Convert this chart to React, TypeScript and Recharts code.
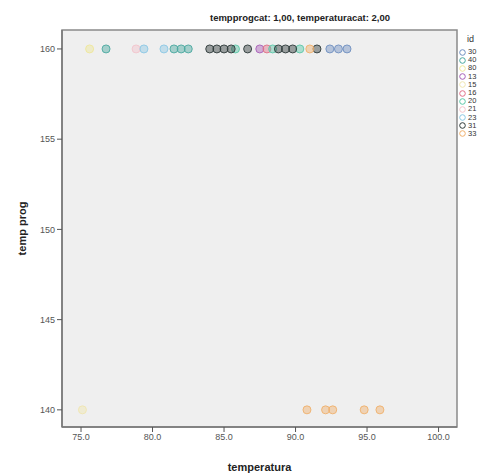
import React from 'react';
import { ScatterChart, Scatter, XAxis, YAxis, CartesianGrid, ReferenceArea, Customized } from 'recharts';

const ids = ['30', '40', '80', '13', '15', '16', '20', '21', '23', '31', '33'];
const colors = ['#6f8fc0', '#4aa8a0', '#eee79a', '#a860b8', '#efe6b0', '#e07088', '#5cc8a8', '#f2c4cc', '#8cc8e4', '#2e3a3a', '#f0b06c'];

// temperatura values per id (temp prog = 160 unless noted)
const s30 = [{ x: 92.4, y: 160 }, { x: 93.0, y: 160 }, { x: 93.6, y: 160 }];
const s40 = [{ x: 76.75, y: 160 }, { x: 81.5, y: 160 }, { x: 82.0, y: 160 }, { x: 82.5, y: 160 }];
const s80 = [{ x: 75.6, y: 160 }];
const s13 = [{ x: 87.5, y: 160 }];
const s15 = [{ x: 75.1, y: 140 }];
const s16 = [{ x: 88.0, y: 160 }];
const s20 = [{ x: 85.8, y: 160 }, { x: 90.3, y: 160 }, { x: 88.4, y: 160 }];
const s21 = [{ x: 78.85, y: 160 }];
const s23 = [{ x: 79.4, y: 160 }, { x: 80.8, y: 160 }];
const s31 = [
  { x: 84.0, y: 160 }, { x: 84.5, y: 160 }, { x: 85.0, y: 160 }, { x: 85.5, y: 160 },
  { x: 86.65, y: 160 }, { x: 88.8, y: 160 }, { x: 89.3, y: 160 }, { x: 89.8, y: 160 }, { x: 91.5, y: 160 },
];
const s33 = [
  { x: 91.0, y: 160 }, { x: 90.8, y: 140 }, { x: 92.1, y: 140 }, { x: 92.6, y: 140 },
  { x: 94.8, y: 140 }, { x: 95.9, y: 140 },
];
const seriesData = [s30, s40, s80, s13, s15, s16, s20, s21, s23, s31, s33];

const xTicks = [75, 80, 85, 90, 95, 100];
const yTicks = [140, 145, 150, 155, 160];
const xDomain = [73.67, 101.29];
const yDomain = [139.05, 161.05];

const title = 'tempprogcat: 1,00, temperaturacat: 2,00';
const FONT = 'Liberation Sans, Arial, sans-serif';

const makeDot = (color: string) => (props: any) => {
  const { cx, cy } = props;
  if (cx == null || cy == null) return <g />;
  return <circle cx={cx} cy={cy} r={4} fill={color} fillOpacity={0.45} stroke={color} strokeOpacity={0.9} strokeWidth={1} />;
};

const LegendBox = () => (
  <div style={{ position: 'absolute', left: 459, top: 34, width: 19, overflow: 'hidden', fontFamily: FONT, fontSize: 7.5, color: '#333', lineHeight: '8.2px', whiteSpace: 'nowrap' }}>
    <div style={{ marginLeft: 8, marginBottom: 4, fontSize: 9, lineHeight: '10px' }}>id</div>
    {ids.map((id, i) => (
      <div key={id} style={{ display: 'flex', alignItems: 'center', height: 8.2, overflow: 'hidden' }}>
        <svg width={7} height={7} style={{ marginRight: 2, flex: 'none' }}>
          <circle cx={3.5} cy={3.5} r={2.8} fill="none" stroke={colors[i]} strokeWidth={1} />
        </svg>
        <span>{id}</span>
      </div>
    ))}
  </div>
);

const Title = () => (
  <text x={300} y={21} textAnchor="middle" fontFamily={FONT} fontSize={9.5} fontWeight="bold" fill="#222">
    {title}
  </text>
);

export default function App() {
  return (
    <div style={{ position: 'absolute', left: 0, top: 0, width: 478, height: 476, background: '#fff' }}>
      <ScatterChart width={478} height={476} margin={{ top: 30, right: 21, bottom: 0, left: 0 }}>
        <CartesianGrid horizontal={false} vertical={false} fill="#efefef" />
        <ReferenceArea x1={xDomain[0]} x2={xDomain[1]} y1={yDomain[0]} y2={yDomain[1]} fill="#efefef" fillOpacity={1} stroke="#8a8a8a" strokeWidth={1.5} ifOverflow="visible" />
        <XAxis
          type="number"
          dataKey="x"
          domain={xDomain}
          ticks={xTicks}
          allowDataOverflow
          height={49}
          tickFormatter={(v: number) => v.toFixed(1)}
          tick={{ fontSize: 9, fill: '#555', fontFamily: FONT }}
          tickLine={{ stroke: '#555' }}
          tickSize={5}
          axisLine={{ stroke: '#777', strokeWidth: 1.5 }}
          label={{ value: 'temperatura', position: 'insideBottom', offset: 5, style: { fontFamily: FONT, fontSize: 11, fontWeight: 'bold', fill: '#222' } }}
        />
        <YAxis
          type="number"
          dataKey="y"
          domain={yDomain}
          ticks={yTicks}
          allowDataOverflow
          width={62}
          tick={{ fontSize: 9, fill: '#555', fontFamily: FONT }}
          tickLine={{ stroke: '#555' }}
          tickSize={5}
          axisLine={{ stroke: '#777', strokeWidth: 1.5 }}
          label={{ value: 'temp prog', angle: -90, position: 'insideLeft', offset: 22, style: { textAnchor: 'middle', fontFamily: FONT, fontSize: 11, fontWeight: 'bold', fill: '#222' } }}
        />
        {seriesData.map((d, i) => (
          <Scatter key={ids[i]} name={ids[i]} data={d} fill={colors[i]} shape={makeDot(colors[i])} isAnimationActive={false} />
        ))}
        <Customized component={Title} />
      </ScatterChart>
      <LegendBox />
    </div>
  );
}
